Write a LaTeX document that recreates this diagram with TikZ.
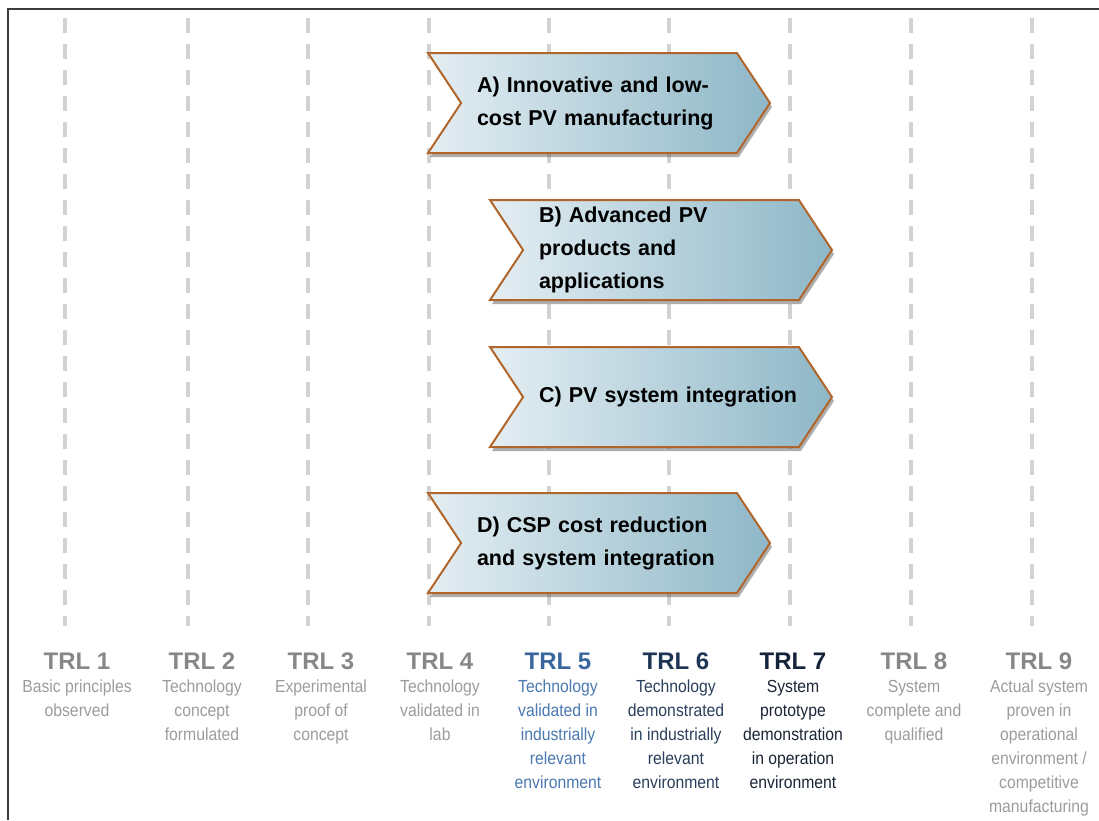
\documentclass[tikz,border=0pt]{standalone}
\usepackage{fontspec}
\setmainfont{Liberation Sans}
\newfontfamily\narrowfont[FakeStretch=0.9]{Liberation Sans}
\usetikzlibrary{positioning,shapes.symbols,shadows}
\definecolor{frame}{HTML}{3C3C3C}
\definecolor{grid}{HTML}{D2D2D2}
\definecolor{chevedge}{HTML}{B2652A}
\definecolor{chevleft}{HTML}{E4EEF3}
\definecolor{chevright}{HTML}{8EB7C7}
\definecolor{greyhead}{HTML}{878787}
\definecolor{greytext}{HTML}{9C9C9C}
\definecolor{bluehead}{HTML}{3A66A0}
\definecolor{bluetext}{HTML}{4A78B0}
\definecolor{navyhead}{HTML}{1E3556}
\definecolor{navytext}{HTML}{2A3F5C}
\definecolor{inkhead}{HTML}{14233A}
\definecolor{inktext}{HTML}{1A2636}
\tikzset{gridline/.style={draw=grid,line width=3.5pt,dash pattern=on 15pt off 11pt},
  chev/.style={signal,signal to=east,signal from=west,signal pointer angle=113,
    draw=chevedge,line width=2pt,left color=chevleft,right color=chevright,
    minimum width=342pt,minimum height=100pt,inner sep=0pt,text width=244pt,align=left,
    font=\bfseries\fontsize{21.5}{33}\selectfont,
    drop shadow={shadow xshift=2pt,shadow yshift=-4pt,opacity=.45,fill=black!70}},
  trltitle/.style={anchor=base,inner sep=0pt,font=\bfseries\fontsize{24}{28}\selectfont},
  trldesc/.style={anchor=north,inner sep=0pt,align=center,font=\narrowfont\fontsize{17.5}{24}\selectfont}}

\begin{document}
\begin{tikzpicture}[x=1pt,y=-1pt]
\useasboundingbox (0,0) rectangle (1099,820);
\draw[frame,line width=1.5pt] (8,820) -- (8,9) -- (1099,9);
% dashed column lines
\foreach \gx in {65,188,308,429,549,669,790,911,1032}
  \draw[gridline] (\gx,18) -- (\gx,626);
% work areas
\node[chev] (areaA) at (599,103) {A) Innovative and low-\\cost PV manufacturing};
\node[chev] (areaB) at (661,250) {B) Advanced PV\\products and\\applications};
\node[chev] (areaC) at (661,397) {\mbox{C) PV system integration}};
\node[chev] (areaD) at (599,543) {D) CSP cost reduction\\and system integration};
% readiness levels
\node[trltitle,text=greyhead] (trl1) at (77,669) {TRL 1};
\node[trltitle,text=greyhead] (trl2) at (202,669) {TRL 2};
\node[trltitle,text=greyhead] (trl3) at (321,669) {TRL 3};
\node[trltitle,text=greyhead] (trl4) at (440,669) {TRL 4};
\node[trltitle,text=bluehead] (trl5) at (558,669) {TRL 5};
\node[trltitle,text=navyhead] (trl6) at (676,669) {TRL 6};
\node[trltitle,text=inkhead] (trl7) at (793,669) {TRL 7};
\node[trltitle,text=greyhead] (trl8) at (914,669) {TRL 8};
\node[trltitle,text=greyhead] (trl9) at (1039,669) {TRL 9};
\node[trldesc,text=greytext] (desc1) at (77,680) {Basic principles\\observed};
\node[trldesc,text=greytext] (desc2) at (202,680) {Technology\\concept\\formulated};
\node[trldesc,text=greytext] (desc3) at (321,680) {Experimental\\proof of\\concept};
\node[trldesc,text=greytext] (desc4) at (440,680) {Technology\\validated in\\lab};
\node[trldesc,text=bluetext] (desc5) at (558,680) {Technology\\validated in\\industrially\\relevant\\environment};
\node[trldesc,text=navytext] (desc6) at (676,680) {Technology\\demonstrated\\in industrially\\relevant\\environment};
\node[trldesc,text=inktext] (desc7) at (793,680) {System\\prototype\\demonstration\\in operation\\environment};
\node[trldesc,text=greytext] (desc8) at (914,680) {System\\complete and\\qualified};
\node[trldesc,text=greytext] (desc9) at (1039,680) {Actual system\\proven in\\operational\\environment /\\competitive\\manufacturing};
\end{tikzpicture}
\end{document}
